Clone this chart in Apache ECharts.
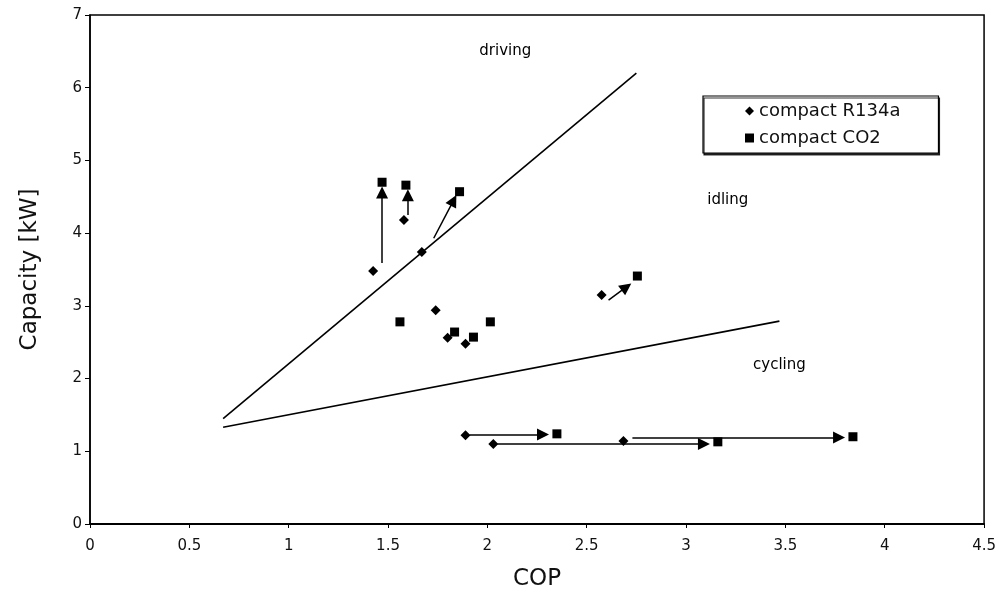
<!DOCTYPE html>
<html>
<head>
<meta charset="utf-8">
<title>Capacity vs COP</title>
<script src="https://cdn.jsdelivr.net/npm/echarts@6/dist/echarts.min.js"></script>
<style>
  html, body { margin: 0; padding: 0; background: #fff; }
  #chart { width: 999px; height: 599px; }
</style>
</head>
<body>
<div id="chart"></div>
<script>
// Measured operating points: COP (x) and cooling capacity in kW (y)
const r134aCop = [1.425, 1.58, 1.67, 1.74, 1.80, 1.89, 2.575, 1.89, 2.03, 2.685];
const r134aCap = [3.48, 4.18, 3.74, 2.94, 2.56, 2.48, 3.15, 1.22, 1.10, 1.14];

const co2Cop = [1.47, 1.59, 1.86, 1.56, 2.015, 1.835, 1.93, 2.755, 2.35, 3.16, 3.84];
const co2Cap = [4.70, 4.66, 4.57, 2.78, 2.78, 2.64, 2.57, 3.41, 1.24, 1.13, 1.20];

// Arrows from an R134a point towards the matching CO2 point: [x1, y1, x2, y2]
const shiftArrows = [
  [1.47, 3.59, 1.47, 4.56],
  [1.60, 4.25, 1.60, 4.52],
  [1.73, 3.93, 1.83, 4.45],
  [2.61, 3.08, 2.70, 3.26],
  [1.91, 1.23, 2.28, 1.23],
  [2.05, 1.10, 3.09, 1.10],
  [2.73, 1.19, 3.77, 1.19]
];

// Boundary lines between the driving / idling / cycling regions
const drivingBoundary = [[0.67, 1.45], [2.75, 6.2]];
const cyclingBoundary = [[0.67, 1.33], [3.47, 2.79]];

// Region names and where they sit in data units
const regionNames = ['driving', 'idling', 'cycling'];
const regionCop = [2.09, 3.21, 3.47];
const regionCap = [6.5, 4.46, 2.19];

const xTicks = { min: 0, max: 4.5, step: 0.5 };
const yTicks = { min: 0, max: 7, step: 1 };

const chart = echarts.init(document.getElementById('chart'));

const fontFam = '"DejaVu Sans", "Liberation Sans", sans-serif';
const ink = '#000';

chart.setOption({
  backgroundColor: '#fff',
  animation: false,
  grid: {
    left: 90, right: 14, top: 15, bottom: 75,
    show: true, borderColor: ink, borderWidth: 1.5, backgroundColor: 'transparent'
  },
  legend: {
    orient: 'vertical',
    left: 703, top: 96,
    padding: [6, 38, 6, 42],
    itemGap: 9,
    itemWidth: 9, itemHeight: 9,
    backgroundColor: '#fff',
    borderColor: ink, borderWidth: 1.2, borderRadius: 0,
    shadowColor: 'rgba(0,0,0,0.8)', shadowOffsetX: 1, shadowOffsetY: 2, shadowBlur: 0,
    textStyle: { fontFamily: fontFam, fontSize: 18, color: '#111' },
    data: [
      { name: 'compact R134a', icon: 'diamond' },
      { name: 'compact CO2', icon: 'rect' }
    ]
  },
  xAxis: {
    type: 'value',
    min: xTicks.min, max: xTicks.max, interval: xTicks.step,
    name: 'COP', nameLocation: 'middle', nameGap: 44,
    nameTextStyle: { fontFamily: fontFam, fontSize: 23, color: '#111' },
    axisLine: { show: true, lineStyle: { color: ink, width: 2 } },
    axisTick: { show: true, length: 4, lineStyle: { color: ink } },
    axisLabel: { fontFamily: fontFam, fontSize: 15, color: '#111', margin: 15 },
    splitLine: { show: false }
  },
  yAxis: {
    type: 'value',
    min: yTicks.min, max: yTicks.max, interval: yTicks.step,
    name: 'Capacity [kW]', nameLocation: 'middle', nameGap: 48,
    nameTextStyle: { fontFamily: fontFam, fontSize: 23, color: '#111' },
    axisLine: { show: true, lineStyle: { color: ink, width: 1.5 } },
    axisTick: { show: true, length: 5, lineStyle: { color: ink } },
    axisLabel: { fontFamily: fontFam, fontSize: 15, color: '#111', margin: 8 },
    splitLine: { show: false }
  },
  series: [
    {
      name: 'driving boundary', type: 'line', data: drivingBoundary,
      symbol: 'none', lineStyle: { color: ink, width: 1.6 }, silent: true
    },
    {
      name: 'cycling boundary', type: 'line', data: cyclingBoundary,
      symbol: 'none', lineStyle: { color: ink, width: 1.6 }, silent: true
    },
    {
      name: 'shift', type: 'lines', coordinateSystem: 'cartesian2d',
      symbol: ['none', 'triangle'], symbolSize: 12,
      lineStyle: { color: ink, width: 1.5, opacity: 1 },
      data: shiftArrows.map(a => ({ coords: [[a[0], a[1]], [a[2], a[3]]] }))
    },
    {
      name: 'compact R134a', type: 'scatter', symbol: 'diamond', symbolSize: 10,
      itemStyle: { color: ink, opacity: 1 },
      data: r134aCop.map((x, i) => [x, r134aCap[i]])
    },
    {
      name: 'compact CO2', type: 'scatter', symbol: 'rect', symbolSize: 9,
      itemStyle: { color: ink, opacity: 1 },
      data: co2Cop.map((x, i) => [x, co2Cap[i]])
    },
    {
      name: 'regions', type: 'scatter', symbol: 'circle', symbolSize: 1, silent: true,
      itemStyle: { color: 'rgba(255,255,255,0)' },
      label: {
        show: true, position: 'inside', formatter: p => p.data.name,
        fontFamily: fontFam, fontSize: 15, color: '#000',
        textBorderWidth: 0, opacity: 1
      },
      data: regionNames.map((n, i) => ({ name: n, value: [regionCop[i], regionCap[i]] }))
    }
  ]
});
</script>
</body>
</html>
